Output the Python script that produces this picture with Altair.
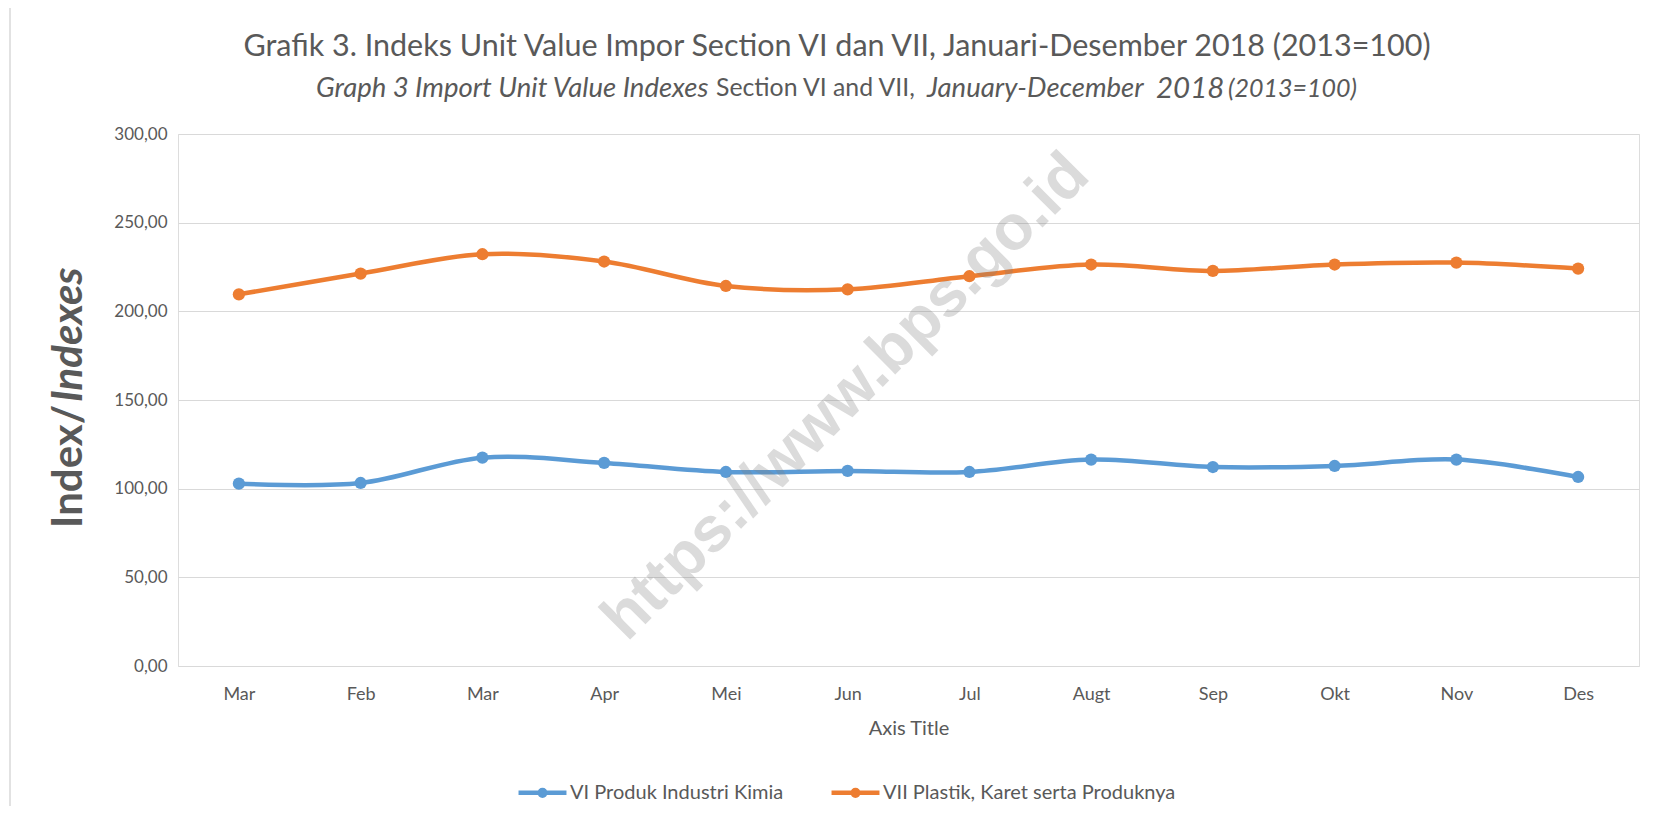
import altair as alt
import pandas as pd

# ---------------- data ----------------
months = ["Mar", "Feb", "Mar", "Apr", "Mei", "Jun", "Jul", "Augt", "Sep", "Okt", "Nov", "Des"]
series_names = ["VI Produk Industri Kimia", "VII Plastik, Karet serta Produknya"]
kimia = [102.8, 103.2, 117.5, 114.5, 109.4, 110.0, 109.4, 116.4, 112.2, 112.8, 116.4, 106.6]
plastik = [209.6, 221.3, 232.2, 228.1, 214.3, 212.4, 219.8, 226.4, 222.8, 226.4, 227.5, 224.1]
y_ticks = [0, 50, 100, 150, 200, 250, 300]

title_text = "Grafik 3. Indeks Unit Value Impor Section VI dan VII, Januari-Desember 2018 (2013=100)"
subtitle_parts = ["Graph 3 Import Unit Value Indexes", "Section VI and VII,", "January-December", "2018", "(2013=100)"]
y_title_parts = ["Index/", "Indexes"]
x_title = "Axis Title"
watermark = "https://www.bps.go.id"

colors = ["#5B9BD5", "#ED7D31"]
TXT = "#595959"
GRID = "#D9D9D9"
FONT = "Lato"

rows = []
for i in range(len(months)):
    rows.append({"idx": i, "series": series_names[0], "value": kimia[i]})
    rows.append({"idx": i, "series": series_names[1], "value": plastik[i]})
df = pd.DataFrame(rows)

label_expr = "[" + ",".join("'%s'" % m for m in months) + "][datum.value]"

x_enc = alt.X(
    "idx:O",
    scale=alt.Scale(type="point", padding=0.5),
    axis=alt.Axis(
        title=x_title, labelExpr=label_expr, labelAngle=0, ticks=False, domain=False,
        grid=False, labelPadding=19, titlePadding=15, labelFontSize=18, titleFontSize=20,
        labelColor=TXT, titleColor=TXT, titleFontWeight="normal", labelFont=FONT, titleFont=FONT,
    ),
)
y_enc = alt.Y(
    "value:Q",
    scale=alt.Scale(domain=[0, 300], nice=False),
    axis=alt.Axis(
        values=y_ticks, labelExpr="replace(format(datum.value, '.2f'), '.', ',')",
        title=None, ticks=False, domain=False, labelPadding=11, gridColor=GRID, gridWidth=1,
        labelFontSize=17, labelColor=TXT, labelFont=FONT,
    ),
)

legend = alt.Legend(
    title=None, orient="none", legendX=338, legendY=632, direction="horizontal",
    symbolType="M-1,0L1,0M0.115,0A0.115,0.115,0,1,1,-0.115,0A0.115,0.115,0,1,1,0.115,0Z",
    symbolSize=2300, symbolStrokeWidth=4.5, labelFontSize=20, labelColor=TXT, labelFont=FONT,
    columnPadding=38, labelOffset=1, padding=0, labelLimit=500,
)

lines = alt.Chart(df).mark_line(
    interpolate="cardinal", strokeWidth=4.5,
    point=alt.OverlayMarkDef(filled=True, size=150, opacity=1),
).encode(
    x=x_enc, y=y_enc,
    color=alt.Color("series:N", scale=alt.Scale(domain=series_names, range=colors), legend=legend),
)


def text_layer(t, x, y, **kw):
    return alt.Chart(pd.DataFrame({"t": [t]})).mark_text(**kw).encode(
        text="t:N", x=alt.value(x), y=alt.value(y)
    )


layers = [lines]

# title
layers.append(text_layer(title_text, 659, -87, fontSize=30.5, font=FONT, color=TXT,
                         align="center", baseline="middle"))
# subtitle pieces
sub_x = [138, 538, 749, 978, 1050]
sub_style = [
    dict(fontStyle="italic", fontSize=27.5),
    dict(fontStyle="normal", fontSize=24.8),
    dict(fontStyle="italic", fontSize=27.5),
    dict(fontStyle="italic", fontSize=29.5),
    dict(fontStyle="italic", fontSize=25),
]
for t, xx, st in zip(subtitle_parts, sub_x, sub_style):
    layers.append(text_layer(t, xx, -45, font=FONT, color=TXT, align="left",
                             baseline="middle", **st))

# y axis title pieces (rotated)
layers.append(text_layer(y_title_parts[0], -109, 394, font=FONT, fontSize=42, fontWeight="bold",
                         color=TXT, align="left", baseline="middle", angle=270))
layers.append(text_layer(y_title_parts[1], -109, 268, font=FONT, fontSize=42, fontWeight="bold",
                         fontStyle="italic", color=TXT, align="left", baseline="middle", angle=270))

# watermark
layers.append(text_layer(watermark, 668, 263, font="Liberation Sans", fontSize=63.5, fontWeight="bold",
                         color="#7f7f7f", opacity=0.28, align="center", baseline="middle", angle=315))

# chart area border
border = alt.Chart(pd.DataFrame({"a": [0]})).mark_rect(
    fill="transparent", stroke=GRID, strokeWidth=1.5
).encode(x=alt.value(-168), x2=alt.value(1600), y=alt.value(-129), y2=alt.value(720))
layers.append(border)

chart = alt.layer(*layers).properties(
    width=1461, height=532,
    autosize=alt.AutoSizeParams(type="none"),
    padding={"left": 170, "top": 126, "right": 13, "bottom": 140},
).configure_view(strokeWidth=0).configure(font=FONT)

chart.save("out.html", embed_options={"renderer": "svg", "actions": False})
